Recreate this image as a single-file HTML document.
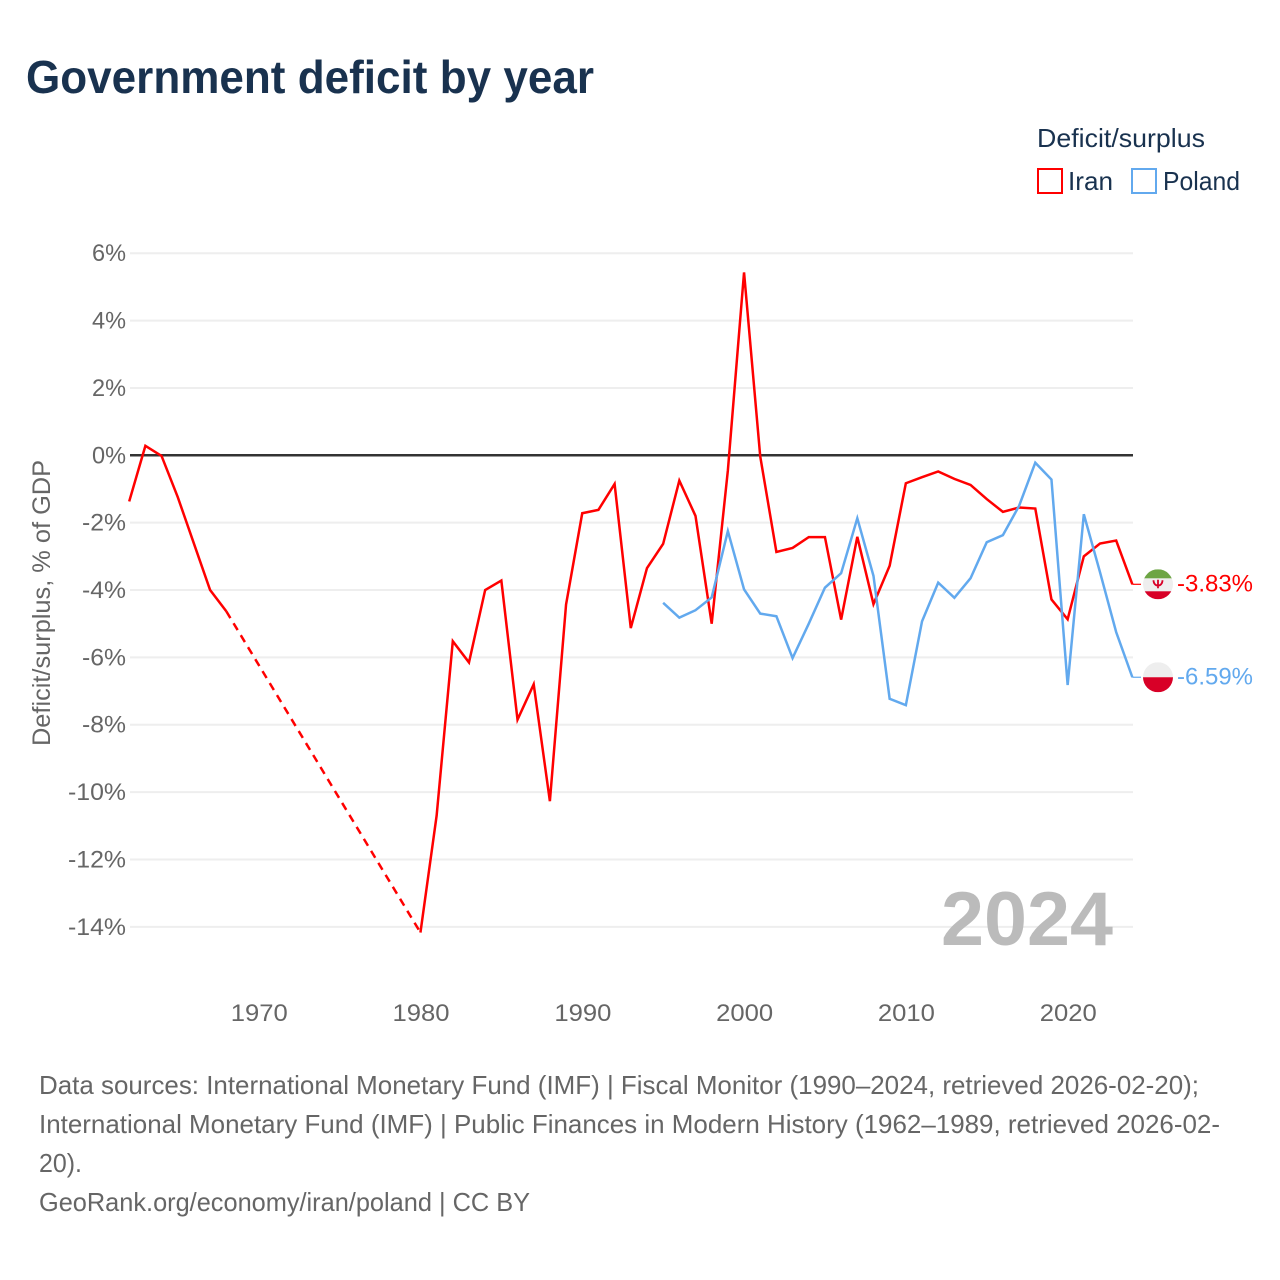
<!DOCTYPE html>
<html lang="en">
<head>
<meta charset="utf-8">
<title>Government deficit by year</title>
<style>
html,body{margin:0;padding:0;background:#fff;width:1280px;height:1280px;overflow:hidden}
svg{display:block}
text{font-family:"Liberation Sans",sans-serif}
</style>
</head>
<body>
<svg id="chart" xmlns="http://www.w3.org/2000/svg" width="1280" height="1280" viewBox="0 0 1280 1280">
  <rect width="1280" height="1280" fill="#fff"/>
  <text x="26" y="93" font-size="46" font-weight="700" fill="#19324f" textLength="568" lengthAdjust="spacingAndGlyphs">Government deficit by year</text>

  <g>
    <text x="1037" y="147" font-size="26" fill="#19324f" textLength="168" lengthAdjust="spacingAndGlyphs">Deficit/surplus</text>
    <g>
      <rect x="1038" y="169" width="24" height="24" fill="none" stroke="#ff0000" stroke-width="2"/>
      <text x="1068" y="190" font-size="26" fill="#19324f" textLength="45" lengthAdjust="spacingAndGlyphs">Iran</text>
    </g>
    <g>
      <rect x="1132" y="169" width="24" height="24" fill="none" stroke="#62a9ee" stroke-width="2"/>
      <text x="1163" y="190" font-size="26" fill="#19324f" textLength="77" lengthAdjust="spacingAndGlyphs">Poland</text>
    </g>
  </g>

  <text transform="translate(50,603) rotate(-90)" text-anchor="middle" font-size="25" fill="#666" textLength="286" lengthAdjust="spacingAndGlyphs">Deficit/surplus, % of GDP</text>

  <g id="grid"></g>
  <g id="yticks"></g>
  <g id="xticks"></g>
  <line id="zero" stroke="#333" stroke-width="2.5"/>

  <text x="1113" y="945" text-anchor="end" font-size="76" font-weight="700" fill="#bbbbbb" textLength="172" lengthAdjust="spacingAndGlyphs">2024</text>

  <g id="series"></g>
  <g id="ends"></g>

  <g font-size="26" fill="#666">
    <text x="39" y="1094" textLength="1160" lengthAdjust="spacingAndGlyphs">Data sources: International Monetary Fund (IMF) | Fiscal Monitor (1990–2024, retrieved 2026-02-20);</text>
    <text x="39" y="1133" textLength="1181" lengthAdjust="spacingAndGlyphs">International Monetary Fund (IMF) | Public Finances in Modern History (1962–1989, retrieved 2026-02-</text>
    <text x="39" y="1172" textLength="43" lengthAdjust="spacingAndGlyphs">20).</text>
    <text x="39" y="1211" textLength="491" lengthAdjust="spacingAndGlyphs">GeoRank.org/economy/iran/poland | CC BY</text>
  </g>
</svg>

<script>
const yearStart = 1962;
const yearEnd = 2024;
const xTickYears = [1970, 1980, 1990, 2000, 2010, 2020];
const yTickValues = [6, 4, 2, 0, -2, -4, -6, -8, -10, -12, -14];

const iranValues = [
  -1.37, 0.28, -0.02, -1.24, -2.62, -4.0, -4.63,
  null, null, null, null, null, null, null, null, null, null, null,
  -14.17, -10.7, -5.52, -6.15, -4.0, -3.72, -7.85, -6.8, -10.27, -4.43,
  -1.72, -1.62, -0.85, -5.13, -3.35, -2.63, -0.75, -1.8, -5.0, -0.45,
  5.43, -0.03, -2.87, -2.75, -2.43, -2.43, -4.88, -2.42, -4.42, -3.28,
  -0.83, -0.65, -0.48, -0.7, -0.88, -1.3, -1.68, -1.55, -1.58, -4.28,
  -4.87, -3.0, -2.62, -2.53, -3.83
];
const polandValues = [
  null, null, null, null, null, null, null, null, null, null,
  null, null, null, null, null, null, null, null, null, null,
  null, null, null, null, null, null, null, null, null, null,
  null, null, null,
  -4.38, -4.82, -4.6, -4.22, -2.25,
  -3.98, -4.7, -4.78, -6.02, -5.0, -3.93, -3.5, -1.87, -3.58, -7.23,
  -7.42, -4.93, -3.78, -4.23, -3.65, -2.58, -2.37, -1.5, -0.22, -0.72,
  -6.82, -1.75, -3.47, -5.25, -6.59
];

const NS = 'http://www.w3.org/2000/svg';
const xAxis = year => 129.2 + (year - yearStart) * 16.18;
const yAxis = val => 455.3 - val * 33.68;
const plotLeft = 130, plotRight = 1133;

function mk(tag, parent, attrs, text) {
  const el = document.createElementNS(NS, tag);
  for (const k in attrs) el.setAttribute(k, attrs[k]);
  if (text !== undefined) el.textContent = text;
  parent.appendChild(el);
  return el;
}
function labelWidth(s) {
  let w = 0;
  for (const c of s) w += c === '%' ? 20 : c === '-' ? 10 : c === '.' ? 6 : 14;
  return w;
}

const gridG = document.getElementById('grid');
const yG = document.getElementById('yticks');
const xG = document.getElementById('xticks');
for (const v of yTickValues) {
  if (v !== 0) {
    const g = mk('line', gridG, {x1: plotLeft, x2: plotRight, y1: yAxis(v), y2: yAxis(v), stroke: '#eeeeee', 'stroke-width': 2});
    
    
  }
  const s = v + '%';
  const t = mk('text', yG, {x: 126, y: yAxis(v) + 8, 'text-anchor': 'end', 'font-size': 24, fill: '#666', textLength: labelWidth(s), lengthAdjust: 'spacingAndGlyphs'}, s);
  
  
}
for (const y of xTickYears) {
  const t = mk('text', xG, {x: xAxis(y) + 0.6, y: 1021, 'text-anchor': 'middle', 'font-size': 24, fill: '#666', textLength: 57, lengthAdjust: 'spacingAndGlyphs'}, String(y));
  
  
}
const zero = document.getElementById('zero');
zero.setAttribute('x1', plotLeft);
zero.setAttribute('x2', plotRight);
zero.setAttribute('y1', yAxis(0));
zero.setAttribute('y2', yAxis(0));

const seriesG = document.getElementById('series');
function drawSeries(values, color, key) {
  let run = [];
  let last = null;
  const flush = () => {
    if (run.length > 1) {
      const p = mk('polyline', seriesG, {points: run.join(' '), fill: 'none', stroke: color, 'stroke-width': 2.5, 'stroke-linejoin': 'miter'});
      
      
    }
    run = [];
  };
  values.forEach((v, i) => {
    if (v === null) { flush(); return; }
    const yr = yearStart + i;
    const px = xAxis(yr), py = yAxis(v);
    if (last && yr - last.yr > 1) {
      const d = mk('line', seriesG, {x1: xAxis(last.yr), y1: yAxis(last.v), x2: px, y2: py, stroke: color, 'stroke-width': 2.5, 'stroke-dasharray': '8 6'});
      
      
    }
    run.push(px.toFixed(2) + ',' + py.toFixed(2));
    last = {yr, v};
  });
  flush();
}
drawSeries(iranValues, '#ff0000', 'iran');
drawSeries(polandValues, '#62a9ee', 'poland');

const endsG = document.getElementById('ends');
function endMarker(values, color, key, drawFlag) {
  const v = values[values.length - 1];
  const cy = yAxis(v);
  const c = mk('line', endsG, {x1: xAxis(yearEnd), x2: 1141, y1: cy, y2: cy, stroke: color, 'stroke-width': 1.2});
  
  
  const g = mk('g', endsG, {transform: 'translate(1158,' + cy + ')'});
  
  
  drawFlag(g);
  const t = mk('text', endsG, {x: 1177, y: cy + 7, 'font-size': 24, fill: color, textLength: 76, lengthAdjust: 'spacingAndGlyphs'}, v.toFixed(2) + '%');
  
  
}
const defs = mk('defs', document.getElementById('chart'), {});
const clip = mk('clipPath', defs, {id: 'flagClip'});
mk('circle', clip, {cx: 0, cy: 0, r: 15});

endMarker(iranValues, '#ff0000', 'iran', g => {
  const inner = mk('g', g, {'clip-path': 'url(#flagClip)'});
  mk('rect', inner, {x: -15, y: -15, width: 30, height: 30, fill: '#eeeeee'});
  mk('rect', inner, {x: -15, y: -15, width: 30, height: 9, fill: '#6da544'});
  mk('rect', inner, {x: -15, y: 7, width: 30, height: 8, fill: '#d80027'});
  mk('path', inner, {d: 'M-4.5,-4 C-4.5,3 4.5,3 4.5,-4 M0,-4.5 V4', fill: 'none', stroke: '#d80027', 'stroke-width': 1.8});
});
endMarker(polandValues, '#62a9ee', 'poland', g => {
  const inner = mk('g', g, {'clip-path': 'url(#flagClip)'});
  mk('rect', inner, {x: -15, y: -15, width: 30, height: 15, fill: '#eeeeee'});
  mk('rect', inner, {x: -15, y: 0, width: 30, height: 15, fill: '#d80027'});
});
</script>
</body>
</html>
